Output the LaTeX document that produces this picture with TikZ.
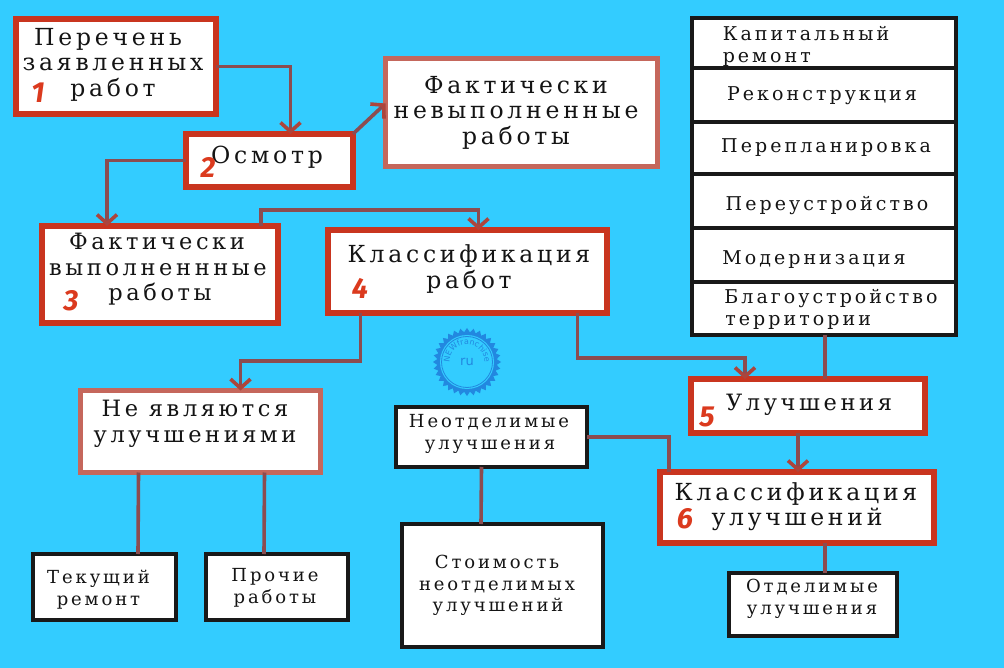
\documentclass[tikz,border=0pt]{standalone}
\usepackage{fontspec}
\usetikzlibrary{arrows.meta,shapes.geometric,decorations.text}
\newfontfamily\lblfont[LetterSpace=16]{DejaVu Serif}
\newfontfamily\numfont{Fira Sans}
\newfontfamily\sealfont{DejaVu Sans}
\definecolor{skyb}{HTML}{33CCFF}
\definecolor{redb}{HTML}{C9351F}
\definecolor{paleb}{HTML}{C5675C}
\definecolor{conn}{HTML}{8C4C50}
\definecolor{numc}{HTML}{DB3A1E}
\definecolor{sealc}{HTML}{2288E0}
\definecolor{ink}{HTML}{141414}
\tikzset{
  boxbase/.style={rectangle,fill=white,inner sep=0pt,outer sep=0pt,text=ink},
  redbox/.style={boxbase,draw=redb,line width=6pt,font=\lblfont\fontsize{23.5}{25.5}\selectfont},
  palebox/.style={boxbase,draw=paleb,line width=5pt,font=\lblfont\fontsize{23.5}{25.5}\selectfont},
  blackbox/.style={boxbase,draw=black!90,line width=4pt,font=\lblfont\fontsize{19}{21.5}\selectfont},
  tightred/.style={font=\lblfont\fontsize{22.5}{25.5}\selectfont},
  tightblack/.style={font=\lblfont\fontsize{18}{21.5}\selectfont},
  line/.style={draw=conn,line width=3.6pt},
  arrowline/.style={line,-{Straight Barb[length=9pt,width=20pt,line width=3.6pt,color=conn!60!numc]}},
  numlabel/.style={font=\numfont\bfseries\itshape\fontsize{29}{29}\selectfont,text=numc,inner sep=0pt},
}
% \bx{name}{style}{lw}{x0}{y0}{x1}{y1}{text cx}{text cy}{lines}
\newcommand{\bx}[9]{%
  \pgfmathsetmacro{\bxcx}{(#4+#6)/2}%
  \pgfmathsetmacro{\bxcy}{(#5+#7)/2}%
  \pgfmathsetmacro{\bxw}{#6-#4-#3}%
  \pgfmathsetmacro{\bxh}{#7-#5-#3}%
  \pgfmathsetmacro{\bxdx}{2*(#8-\bxcx)}%
  \pgfmathsetmacro{\bxdy}{-2*(#9-\bxcy)}%
  \bxcont{#1}{#2}}
\newcommand{\bxcont}[3]{%
  \node[#2,minimum width=\bxw pt,minimum height=\bxh pt] (#1) at (\bxcx,\bxcy)
    {\vbox{\hbox{\kern\bxdx pt\begin{tabular}{@{}c@{}}#3\end{tabular}}\kern\bxdy pt}};}
\newcommand{\off}[1]{\hspace*{#1pt}}
\newcommand{\lf}[1]{\multicolumn{1}{@{}l@{}}{#1}}
\begin{document}
\begin{tikzpicture}[x=1pt,y=-1pt]
\useasboundingbox (0,0) rectangle (1004,668);
\fill[skyb] (0,0) rectangle (1004,668);
% red boxes
\bx{a1}{redbox}{6}{13}{16}{219}{117}{113}{66}{\off{-10}Перечень\\заявленных\\работ}
\bx{a2}{redbox}{6}{183}{131}{356}{190}{267}{158}{Осмотр}
\bx{a3}{redbox,tightred}{6}{39}{223}{281}{326}{158}{270}{\off{-2}Фактически\\выполненнные\\\off{4}работы}
\bx{a4}{redbox}{6}{325}{227}{610}{316}{469}{270}{Классификация\\работ}
\bx{a5}{redbox,tightred}{6}{688}{376}{928}{436}{809}{405}{Улучшения}
\bx{a6}{redbox}{6}{657}{469}{937}{546}{796}{508}{Классификация\\\off{2}улучшений}
\bx{nv}{palebox}{5}{383}{56}{660}{169}{516}{114}{Фактически\\невыполненные\\работы}
\bx{ny}{palebox,tightred}{5}{78}{388}{323}{475}{195}{424.5}{Не являются\\улучшениями}
% black boxes
\bx{r1}{blackbox}{4}{690}{16}{958}{70}{806}{47}{\lf{Капитальный}\\\lf{ремонт}}
\bx{r2}{blackbox}{4}{690}{66}{958}{124}{822}{96}{Реконструкция}
\bx{r3}{blackbox}{4}{690}{120}{958}{176}{826}{148}{Перепланировка}
\bx{r4}{blackbox}{4}{690}{172}{958}{230}{827}{206}{Переустройство}
\bx{r5}{blackbox}{4}{690}{226}{958}{284}{814}{260}{Модернизация}
\bx{r6}{blackbox}{4}{690}{280}{958}{337}{831}{310}{\lf{Благоустройство}\\\lf{\hspace*{1pt}территории}}
\bx{b1}{blackbox,tightblack}{4}{394}{405}{589}{469}{489}{434}{Неотделимые\\\off{2}улучшения}
\bx{b2}{blackbox,tightblack}{4}{400}{522}{605}{649}{497}{586}{Стоимость\\неотделимых\\\off{2}улучшений}
\bx{b3}{blackbox,tightblack}{4}{727}{571}{899}{638}{812}{599}{Отделимые\\улучшения}
\bx{b4}{blackbox,tightblack}{4}{31}{552}{178}{622}{98.5}{590}{Текущий\\ремонт}
\bx{b5}{blackbox,tightblack}{4}{204}{552}{350}{622}{275}{588}{Прочие\\работы}
% connectors
\draw[arrowline] (a1.east) -| ([xshift=21pt]a2.north);
\draw[arrowline] (a2.north east) -- ([yshift=9pt]nv.west);
\draw[arrowline] (a2.west) -| ([xshift=-53pt]a3.north);
\draw[arrowline] ([xshift=101pt]a3.north) -- ++(0,-16) -| ([xshift=11pt]a4.north);
\draw[arrowline] ([xshift=-107pt]a4.south) -- ++(0,48) -| ([xshift=40pt]ny.north);
\draw[arrowline] ([xshift=110pt]a4.south) -- ++(0,45) -| ([xshift=-63pt]a5.north);
\draw[line] ([xshift=1pt]r6.south) -- ([xshift=17pt]a5.north);
\draw[arrowline] ([xshift=-10pt]a5.south) -- ([xshift=1pt]a6.north);
\draw[line] ([xshift=28pt]a6.south) -- ([xshift=12pt]b3.north);
\draw[line] (b1.east) -| ([xshift=-128pt]a6.north);
\draw[line] ([xshift=-10pt]b1.south) -- ([xshift=-21.5pt]b2.north);
\draw[line] ([xshift=-62pt]ny.south) -- ([xshift=33.5pt]b4.north);
\draw[line] ([xshift=64pt]ny.south) -- ([xshift=-13pt]b5.north);
% numbers
\node[numlabel] (n1) at (38,93) {1};
\node[numlabel] (n2) at (208,167) {2};
\node[numlabel] (n3) at (71,301) {3};
\node[numlabel] (n4) at (360,288) {4};
\node[numlabel] (n5) at (707,417) {5};
\node[numlabel] (n6) at (685,519) {6};
% seal
\node[star,star points=32,star point ratio=1.14,minimum size=68pt,inner sep=0pt,fill=sealc] (seal) at (467,362) {};
\node[circle,fill=skyb,draw=none,minimum size=54pt,inner sep=0pt] (sealin) at (seal.center) {};
\node[circle,draw=sealc,line width=0.8pt,minimum size=51pt,inner sep=0pt] (sealring) at (seal.center) {};
\node[font=\sealfont\fontsize{13}{13}\selectfont,text=sealc,inner sep=0pt] (sealru) at (467,362) {ru};
\path[decorate,decoration={text along path,text align=center,
  text={|\sealfont\fontsize{8}{9}\selectfont\color{sealc}|NEWfranchise}}]
  ([shift={(235:17.5pt)}]seal.center) arc[start angle=235,end angle=-55,radius=17.5pt];
\end{tikzpicture}
\end{document}
